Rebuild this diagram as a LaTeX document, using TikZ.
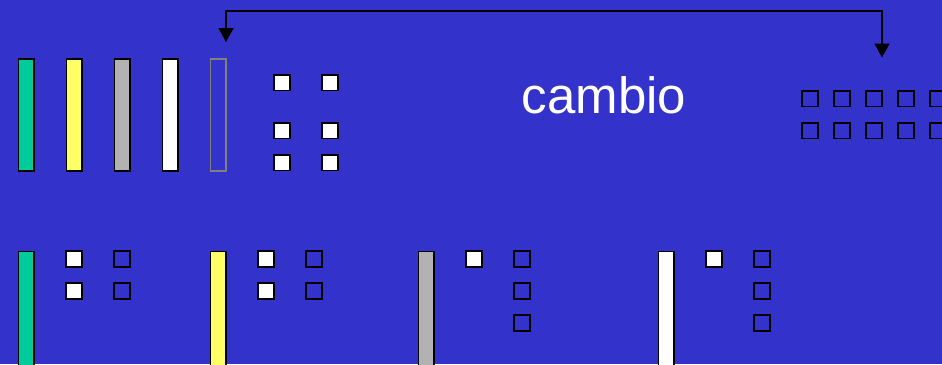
\documentclass[tikz,border=0pt]{standalone}
\usepackage{fontspec}
\setmainfont{Liberation Sans}
\usetikzlibrary{arrows.meta,positioning}
\definecolor{bgblue}{HTML}{3333CC}
\definecolor{barteal}{HTML}{00CC99}
\definecolor{baryellow}{HTML}{FFFF66}
\definecolor{bargray}{HTML}{B2B2B2}

\begin{document}
\begin{tikzpicture}[x=1pt,y=-1pt,
    bar/.style={draw,line width=1.6pt,minimum width=15.4pt,minimum height=111.5pt,inner sep=0pt},
    sq/.style={draw,line width=1.6pt,minimum size=15.5pt,inner sep=0pt},
    full/.style={sq,fill=white}]
    \clip (0,0) rectangle (942,364);
    \fill[bgblue] (0,0) rectangle (942,364);
    % top row: registers and free slots
    \foreach \i/\x/\c in {1/26/barteal,2/74/baryellow,3/122/bargray,4/170/white}{
        \node[bar,fill=\c] (t\i) at (\x,115) {};
    }
    \node[bar,draw=gray] (t5) at (218,115) {};
    \foreach \i/\x in {1/282,2/330}{
        \foreach \j/\y in {1/82.7,2/130.7,3/162.7}{\node[full] (f\i\j) at (\x,\y) {};}
    }
    \node[text=white,font=\fontsize{51}{60}\selectfont,anchor=base] (cambio) at (604,113) {cambio};
    \foreach \i/\x in {1/810,2/842,3/874,4/906,5/938}{
        \node[sq] (r\i a) at (\x,98.7) {};
        \node[sq] (r\i b) at (\x,130.7) {};
    }
    \coordinate (la) at (226,42);
    \coordinate (ra) at (882,57.5);
    \draw[line width=1.5pt,{Triangle[width=15pt,length=14pt]}-{Triangle[width=15pt,length=14pt]}] (la) -- ++(0,-31) -| (ra);
    % bottom row: each register with its slots
    \foreach \i/\x/\c in {1/26/barteal,2/218/baryellow,3/426/bargray,4/666/white}{
        \node[bar,fill=\c,minimum height=130pt] (b\i) at (\x,316.5) {};
    }
    \foreach \i/\x in {1/74,2/266}{
        \node[full] (bf\i a) at (\x,259) {};
        \node[full] (bf\i b) at (\x,291) {};
        \node[sq] (be\i a) at (\x+48,259) {};
        \node[sq] (be\i b) at (\x+48,291) {};
    }
    \foreach \i/\x in {3/474,4/714}{
        \node[full] (bf\i a) at (\x,259) {};
        \foreach \j/\y in {a/259,b/291,c/323}{\node[sq] (be\i\j) at (\x+48,\y) {};}
    }
\end{tikzpicture}
\end{document}
